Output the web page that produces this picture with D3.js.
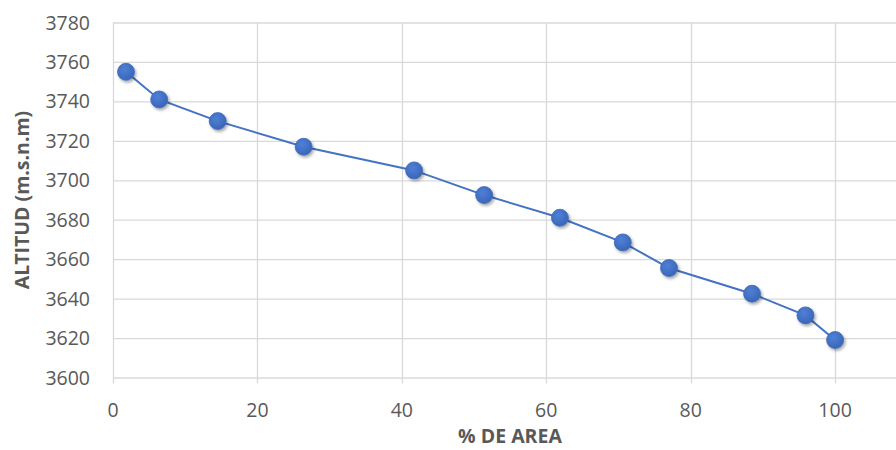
<!DOCTYPE html>
<html>
<head>
<meta charset="utf-8">
<script src="https://cdn.jsdelivr.net/npm/d3@7"></script>
<style>
  body { margin: 0; background: #fff; }
  svg { display: block; }
</style>
</head>
<body>
<script>
// chart size
var width = 896;
var height = 450;

// data
var areaPct = [1.8, 6.4, 14.5, 26.4, 41.7, 51.4, 61.9, 70.6, 77.0, 88.5, 95.9, 100];
var altitud = [3755, 3741, 3730, 3717, 3705, 3692.5, 3681, 3668.5, 3655.5, 3642.5, 3631.5, 3619];
var xTicks = [0, 20, 40, 60, 80, 100, 120];
var yTicks = [3600, 3620, 3640, 3660, 3680, 3700, 3720, 3740, 3760, 3780];

var points = areaPct.map(function (d, i) { return {x: d, y: altitud[i]}; });

// the plot runs past the right edge of the picture (0..120)
var x = d3.scaleLinear().domain([0, 120]).range([113, 979.5]);
var y = d3.scaleLinear().domain([3600, 3780]).range([377.5, 22.5]);

var svg = d3.select('body').append('svg')
  .attr('width', width)
  .attr('height', height);

var defs = svg.append('defs');
var shadow = defs.append('filter')
  .attr('id', 'shadow')
  .attr('x', '-50%').attr('y', '-50%')
  .attr('width', '200%').attr('height', '200%');
shadow.append('feDropShadow')
  .attr('dx', 1.5).attr('dy', 2)
  .attr('stdDeviation', 1.5)
  .attr('flood-color', '#000')
  .attr('flood-opacity', 0.35);

var grad = defs.append('radialGradient')
  .attr('id', 'dot')
  .attr('cx', '40%').attr('cy', '35%').attr('r', '65%');
grad.append('stop').attr('offset', '0%').attr('stop-color', '#4f80d6');
grad.append('stop').attr('offset', '100%').attr('stop-color', '#3a66b8');

// horizontal grid lines
svg.append('g')
  .selectAll('line')
  .data(yTicks)
  .enter().append('line')
  .attr('x1', x(0))
  .attr('x2', width)
  .attr('y1', function (d) { return y(d) + 0.5; })
  .attr('y2', function (d) { return y(d) + 0.5; })
  .attr('stroke', '#d9d9d9')
  .attr('stroke-width', 1.3);

// vertical grid lines
svg.append('g')
  .selectAll('line')
  .data(xTicks)
  .enter().append('line')
  .attr('x1', function (d) { return Math.round(x(d)) + 0.5; })
  .attr('x2', function (d) { return Math.round(x(d)) + 0.5; })
  .attr('y1', y(3780))
  .attr('y2', y(3600) + 6)
  .attr('stroke', '#d9d9d9')
  .attr('stroke-width', 1.3);

// tick labels
svg.append('g')
  .selectAll('text')
  .data(yTicks)
  .enter().append('text')
  .attr('x', 90)
  .attr('y', function (d) { return y(d); })
  .attr('dy', '0.36em')
  .attr('text-anchor', 'end')
  .attr('font-family', 'Open Sans, sans-serif')
  .attr('font-size', '19.5px')
  .attr('fill', '#595959')
  .text(function (d) { return d; });

svg.append('g')
  .selectAll('text')
  .data(xTicks.filter(function (d) { return d <= 100; }))
  .enter().append('text')
  .attr('x', function (d) { return x(d); })
  .attr('y', 417)
  .attr('text-anchor', 'middle')
  .attr('font-family', 'Open Sans, sans-serif')
  .attr('font-size', '19.5px')
  .attr('fill', '#595959')
  .text(function (d) { return d; });

// axis titles
svg.append('text')
  .attr('x', 510)
  .attr('y', 443)
  .attr('text-anchor', 'middle')
  .attr('font-family', 'Open Sans, sans-serif')
  .attr('font-weight', 'bold')
  .attr('font-size', '19.5px')
  .attr('fill', '#595959')
  .text('% DE AREA');

svg.append('text')
  .attr('transform', 'translate(28.5,200) rotate(-90)')
  .attr('text-anchor', 'middle')
  .attr('font-family', 'Open Sans, sans-serif')
  .attr('font-weight', 'bold')
  .attr('font-size', '19.5px')
  .attr('fill', '#595959')
  .text('ALTITUD (m.s.n.m)');

// series line
var line = d3.line()
  .x(function (d) { return x(d.x); })
  .y(function (d) { return y(d.y); });

svg.append('path')
  .datum(points)
  .attr('d', line)
  .attr('fill', 'none')
  .attr('stroke', '#4472c4')
  .attr('stroke-width', 2);

// markers
svg.append('g')
  .selectAll('circle')
  .data(points)
  .enter().append('circle')
  .attr('cx', function (d) { return x(d.x); })
  .attr('cy', function (d) { return y(d.y); })
  .attr('r', 8.5)
  .attr('fill', 'url(#dot)')
  .attr('stroke', '#3d69b9')
  .attr('stroke-width', 0.8)
  .attr('filter', 'url(#shadow)');
</script>
</body>
</html>
